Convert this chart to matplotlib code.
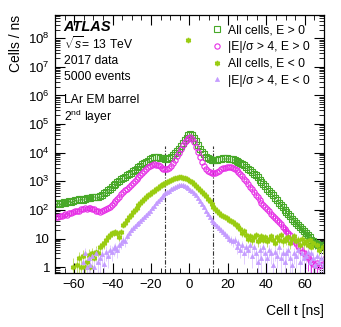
import numpy as np
import matplotlib
matplotlib.use("Agg")
from matplotlib import pyplot as plt
from matplotlib.ticker import MultipleLocator, LogLocator, FixedLocator, FuncFormatter, NullFormatter

nan = np.nan

# bin centres, 1 ns bins from -70 to 70 ns
t_bins = np.arange(-69.5, 70.0, 1.0)

all_pos = [
    160, 170, 165, 180, 185, 175, 190, 200, 195, 210,
    220, 215, 235, 240, 230, 250, 260, 255, 270, 280,
    290, 275, 285, 300, 340, 380, 430, 480, 560, 650,
    740, 830, 930, 1050, 1180, 1300, 1450, 1620, 1800, 2000,
    2250, 2500, 2800, 3100, 3500, 3900, 4300, 4800, 5300, 5900,
    6500, 6900, 7000, 6900, 6700, 6500, 6300, 6200, 6200, 6500,
    7200, 8200, 9500, 11500, 14000, 17500, 22000, 27000, 33000, 40000,
    44000, 40000, 33000, 25000, 19000, 14000, 11000, 8800, 7300, 6300,
    5800, 5500, 5400, 5500, 5700, 5900, 6100, 6300, 6300, 6300,
    6200, 6000, 5800, 5500, 5200, 4800, 4400, 4000, 3600, 3200,
    2800, 2450, 2150, 1850, 1600, 1380, 1150, 950, 800, 660,
    550, 460, 380, 320, 265, 220, 180, 150, 125, 103,
    85, 72, 60, 50, 42, 36, 30, 25, 21, 18,
    15, 13, 11, 9, 8, 7, 6.5, 6, 5.5, 6,
]

sig_pos = [
    55, 58, 62, 60, 66, 70, 68, 75, 80, 84,
    88, 95, 92, 105, 110, 112, 108, 115, 118, 110,
    105, 95, 88, 86, 92, 98, 105, 115, 130, 150,
    175, 205, 240, 290, 350, 410, 480, 560, 650, 750,
    870, 1000, 1180, 1380, 1650, 1950, 2300, 2700, 3100, 3500,
    3800, 3900, 3850, 3600, 3300, 3000, 2750, 2600, 2650, 2900,
    3400, 4300, 5600, 7500, 10000, 13500, 18000, 23000, 28000, 33000,
    34000, 30000, 23000, 16000, 10500, 7000, 4800, 3500, 2700, 2300,
    2100, 2000, 1950, 2000, 2150, 2350, 2600, 2850, 3000, 3150,
    3200, 3150, 3000, 2800, 2500, 2150, 1800, 1500, 1250, 1000,
    800, 650, 520, 420, 340, 280, 225, 180, 150, 125,
    105, 88, 74, 62, 52, 44, 37, 31, 26, 22,
    19, 16, 13, 10, 8.5, 7, 5.5, 4.5, 3.5, 3,
    2.5, 2.2, 1.8, 1.5, 1.3, 1.2, 1.4, 1.1, 1.2, 1.3,
]

all_neg = [
    nan, nan, nan, nan, nan, nan, nan, nan, nan, 1,
    nan, 1.2, 2, 1, 2.5, 1, 1.5, 2.6, 1, 3,
    2, 3.5, 3, 5, 6, 7, 9, 11, 13, 15,
    16, 17, 15, 11, 17, 30, 36, 45, 55, 68,
    82, 100, 120, 150, 180, 210, 240, 280, 320, 360,
    410, 470, 530, 600, 680, 750, 820, 880, 950, 1050,
    1130, 1200, 1270, 1320, 1360, 1370, 1350, 1300, 1220, 9e7,
    1050, 920, 790, 670, 570, 490, 420, 360, 300, 250,
    205, 165, 130, 105, 88, 76, 68, 61, 58, 52,
    45, 41, 37, 33, 30, 26, 21, 15, 19, 13,
    10, 12, 9, 11, 13, 8, 10, 12, 9, 11,
    8, 10, 12, 9, 7, 11, 9, 13, 8, 10,
    9, 11, 7, 10, 12, 8, 9, 6, 10, 7,
    8, 6, 9, 5, 7, nan, 6, 4, nan, 5,
]

sig_neg = [
    nan, nan, nan, nan, nan, nan, nan, nan, nan, nan,
    nan, nan, nan, nan, 1.5, 3, 1, 2, 1.2, 2.5,
    1, 3, 1.5, 2, 2.8, 1.3, 3.5, 2.5, 4, 3.5,
    4.5, 5, 4, 6, 7, 9, 8, 12, 15, 20,
    24, 28, 32, 36, 42, 50, 58, 68, 80, 95,
    115, 140, 170, 210, 250, 290, 330, 375, 420, 470,
    520, 580, 640, 690, 720, 740, 720, 680, 630, 570,
    500, 440, 380, 320, 260, 210, 165, 125, 95, 72,
    58, 46, 38, 32, 28, 24, 20, 17, 14, 12,
    10, 9, 8, 9, 5, 7, 4, 6, 3, 5,
    4, 6, 2.5, 5, 3, 1.5, 4, 2, 5, 3,
    2, 4, 3, 1.2, 3.5, 2.5, 5, 2, 3, 1.5,
    3, 4, 2, 1.2, 3, 2.5, 4, 1.5, 3, 2,
    2.5, 3.5, 1.5, 3, 2, 1.2, 2.5, 1.5, 2, 1.2,
]

labels = ["All cells, E > 0", "|E|/\u03c3 > 4, E > 0",
          "All cells, E < 0", "|E|/\u03c3 > 4, E < 0"]
y_ticks = [1, 10, 1e2, 1e3, 1e4, 1e5, 1e6, 1e7, 1e8]
window = 12.5

plt.rcParams["font.family"] = ["Liberation Sans", "DejaVu Sans"]
plt.rcParams["mathtext.fontset"] = "custom"
plt.rcParams["mathtext.rm"] = "Liberation Sans"
plt.rcParams["mathtext.it"] = "Liberation Sans:italic"
plt.rcParams["mathtext.bf"] = "Liberation Sans:bold"


def poisson_err(vals):
    v = np.asarray(vals, dtype=float)
    e = np.sqrt(v)
    lo = np.minimum(e, v * 0.999)
    return [lo, e]


fig = plt.figure(figsize=(3.41, 3.27), dpi=100)
ax = fig.add_axes([0.161, 0.165, 0.789, 0.789])

styles = [
    dict(fmt="s", ms=3.8, mfc="none", mec="#47a828", ecolor="#47a828", mew=0.8),
    dict(fmt="o", ms=3.8, mfc="none", mec="#e62ee6", ecolor="#e62ee6", mew=0.8),
    dict(fmt=(6, 2, 0), ms=3.8, mfc="#99cc11", mec="#99cc11", ecolor="#c4e070", mew=1.1),
    dict(fmt="^", ms=3.0, mfc="#c49bff", mec="#c49bff", ecolor="#e2cdff", mew=0.5),
]
series = [all_pos, sig_pos, all_neg, sig_neg]
handles = []
for vals, st, lab in zip(series, styles, labels):
    fmt = st.pop("fmt")
    v = np.asarray(vals, dtype=float)
    cont = ax.errorbar(t_bins, v, yerr=poisson_err(v), marker=fmt, linestyle="none",
                       elinewidth=0.7, capsize=0, label=lab, **st)
    handles.append(cont[0])

ax.set_yscale("log")
ax.set_xlim(-70, 70)
ax.set_ylim(0.62, 6.5e8)
ax.vlines([-window, window], 0.62, 1.7e4, colors="#333333",
          linestyles=(0, (4, 1.5, 1, 1.5)), linewidth=0.8)

ax.xaxis.set_major_locator(MultipleLocator(20))
ax.xaxis.set_minor_locator(MultipleLocator(5))
ax.yaxis.set_major_locator(FixedLocator(y_ticks))
ax.yaxis.set_minor_locator(LogLocator(base=10, subs=np.arange(2, 10), numticks=20))
ax.yaxis.set_minor_formatter(NullFormatter())


def ylab(v, pos):
    if v < 1.5:
        return "1"
    if v < 15:
        return "10"
    return r"$10^{%d}$" % round(np.log10(v))


ax.yaxis.set_major_formatter(FuncFormatter(ylab))
ax.tick_params(which="both", direction="in", top=True, right=True, labelsize=9.5)
ax.tick_params(which="major", length=7, width=0.8)
ax.tick_params(which="minor", length=3.5, width=0.6)
ax.tick_params(axis="x", pad=4)
for sp in ax.spines.values():
    sp.set_linewidth(0.9)

ax.set_ylabel("Cells / ns", fontsize=10, loc="top")
ax.yaxis.set_label_coords(-0.119, 1.0)
ax.set_xlabel("Cell t [ns]", fontsize=10, loc="right")
ax.xaxis.set_label_coords(1.0, -0.12)

tx = 0.033
ax.text(tx, 0.953, "ATLAS", transform=ax.transAxes, fontsize=10.5,
        fontweight="bold", fontstyle="italic", va="center")
info = [(0.891, r"$\sqrt{s}$= 13 TeV"), (0.822, "2017 data"), (0.760, "5000 events"),
        (0.671, "LAr EM barrel"), (0.605, r"2$^{\mathrm{nd}}$ layer")]
for y, s in info:
    ax.text(tx, y, s, transform=ax.transAxes, fontsize=8.7, va="center")

ax.legend(handles, labels, loc="upper left", bbox_to_anchor=(0.585, 0.965), frameon=False,
          fontsize=8.7, handlelength=0.8, handletextpad=0.5, labelspacing=0.4,
          borderpad=0, borderaxespad=0, numpoints=1)

fig.savefig("out.png", dpi=100)
